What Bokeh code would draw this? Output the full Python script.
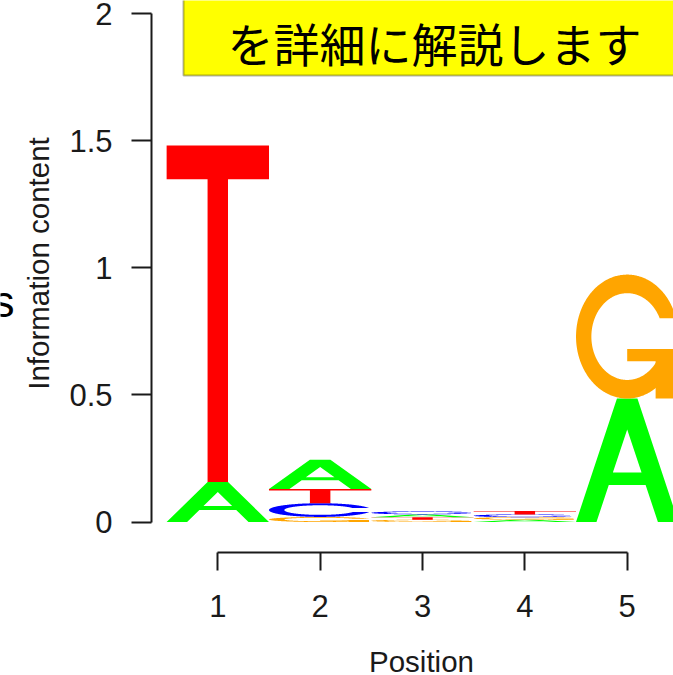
import numpy as np
from bokeh.plotting import figure
from bokeh.models import (ColumnDataSource, Range1d, FixedTicker, Label,
                          BoxAnnotation)
from bokeh.embed import file_html
from bokeh.resources import INLINE

# ---- information content per letter at each motif position ----
positions = [1, 2, 3, 4, 5]
height_A = [0.157, 0.115, 0.011, 0.009, 0.486]
height_C = [0.000, 0.054, 0.012, 0.011, 0.000]
height_G = [0.000, 0.020, 0.009, 0.010, 0.488]
height_T = [1.325, 0.056, 0.010, 0.013, 0.000]

y_ticks = [0, 0.5, 1, 1.5, 2]
y_tick_labels = ["0", "0.5", "1", "1.5", "2"]
x_tick_labels = ["1", "2", "3", "4", "5"]

letter_colors = {"A": "#00FF00", "C": "#0000FF", "G": "#FFA500", "T": "#FF0000"}


# ---- letter outlines in a unit box (seqLogo style polygons) ----
def ring_outline():
    a1 = np.linspace(0.3 + np.pi / 2, np.pi, 100)
    a2 = np.linspace(np.pi, 1.5 * np.pi, 100)
    xl1, yl1 = 0.5 + 0.5 * np.sin(a1), 0.5 + 0.5 * np.cos(a1)
    xl2, yl2 = 0.5 + 0.5 * np.sin(a2), 0.5 + 0.5 * np.cos(a2)
    xl, yl = np.r_[xl1, xl2], np.r_[yl1, yl2]
    x = np.r_[xl, xl[::-1]]
    y = np.r_[yl, 1 - yl[::-1]]
    xi1, yi1 = 0.5 + 0.35 * np.sin(a1), 0.5 + 0.35 * np.cos(a1)
    keep = yi1 <= yl1.max()
    xi1, yi1 = xi1[keep], yi1[keep].copy()
    yi1[0] = yl1.max()
    xi2, yi2 = 0.5 + 0.35 * np.sin(a2), 0.5 + 0.35 * np.cos(a2)
    xi, yi = np.r_[xi1, xi2], np.r_[yi1, yi2]
    x1 = np.r_[xi, xi[::-1]]
    y1 = np.r_[yi, 1 - yi[::-1]]
    return np.r_[x, x1[::-1]], np.r_[y, y1[::-1]], xl1.max()


def letter_parts(ch):
    """Separately filled parts of a letter; each part is a list of rings
    (outer ring first, then holes)."""
    if ch == "A":
        ox = np.array([0, 4, 6, 10, 8, 6.8, 3.2, 2, 0]) / 10
        oy = np.array([0, 10, 10, 0, 0, 3, 3, 0, 0]) / 10
        hx = np.array([3.6, 5, 6.4, 3.6]) / 10
        hy = np.array([4, 7.5, 4, 4]) / 10
        return [[(ox, oy), (hx, hy)]]
    if ch == "T":
        x = np.array([0, 10, 10, 6, 6, 4, 4, 0]) / 10
        y = np.array([10, 10, 9, 9, 0, 0, 9, 9]) / 10
        return [[(x, y)]]
    x, y, r1 = ring_outline()
    if ch == "C":
        return [[(x, y)]]
    h1 = 0.4
    bx = np.array([r1, 0.5, 0.5, r1 - 0.2, r1 - 0.2, r1, r1])
    by = np.array([h1, h1, h1 - 0.1, h1 - 0.1, 0, 0, h1])
    return [[(x, y)], [(bx, by)]]


heights = {"A": height_A, "C": height_C, "G": height_G, "T": height_T}
xs, ys, colors = [], [], []
for i, pos in enumerate(positions):
    column = sorted("ACGT", key=lambda c: heights[c][i])
    base = 0.0
    for ch in column:
        h = heights[ch][i]
        if h <= 0:
            continue
        for part in letter_parts(ch):
            xs.append([[list(pos - 0.5 + rx) for rx, _ in part]])
            ys.append([[list(base + h * ry) for _, ry in part]])
            colors.append(letter_colors[ch])
        base += h

src = ColumnDataSource(dict(xs=xs, ys=ys, color=colors))

W, H = 673, 675
p = figure(width=W, height=H, output_backend="svg", toolbar_location=None,
           x_range=Range1d(-1.1231, 5.4524), y_range=Range1d(-0.6043, 2.0531),
           min_border_left=0, min_border_right=0, min_border_top=0,
           min_border_bottom=0)
p.outline_line_color = None
p.grid.visible = False
p.background_fill_color = "white"
p.border_fill_color = "white"

p.multi_polygons(xs="xs", ys="ys", source=src, fill_color="color",
                 line_color=None)

ink = "#1a1a1a"
font = "Liberation Sans"

yax = p.yaxis[0]
yax.fixed_location = 0.3522
yax.bounds = (0, 2)
yax.ticker = FixedTicker(ticks=y_ticks)
yax.major_label_overrides = {t: s for t, s in zip(y_ticks, y_tick_labels)}
yax.major_tick_out = 20
yax.major_tick_in = 0
yax.minor_tick_out = 0
yax.minor_tick_in = 0
yax.major_label_standoff = 19
yax.major_label_orientation = "horizontal"

xax = p.xaxis[0]
xax.fixed_location = -0.1201
xax.bounds = (1, 5)
xax.ticker = FixedTicker(ticks=positions)
xax.major_label_overrides = {t: s for t, s in zip(positions, x_tick_labels)}
xax.major_tick_out = 18
xax.major_tick_in = 0
xax.minor_tick_out = 0
xax.minor_tick_in = 0
xax.major_label_standoff = 24

for ax in (xax, yax):
    ax.axis_line_color = ink
    ax.axis_line_width = 2
    ax.major_tick_line_color = ink
    ax.major_tick_line_width = 2
    ax.major_label_text_font = font
    ax.major_label_text_font_size = "31px"
    ax.major_label_text_color = ink


# screen positions measured from the top-left corner of the canvas
def sx(px):
    return px


def sy(py):
    return H - py


p.add_layout(Label(x=sx(38), y=sy(263), x_units="screen", y_units="screen",
                   text="Information content", angle=np.pi / 2,
                   text_align="center", text_baseline="middle",
                   text_font=font, text_font_size="29.5px", text_color=ink))
p.add_layout(Label(x=sx(421), y=sy(661), x_units="screen", y_units="screen",
                   text="Position", text_align="center",
                   text_baseline="middle", text_font=font,
                   text_font_size="29.5px", text_color=ink))

# slide callout above the logo
p.add_layout(BoxAnnotation(left=sx(183), right=sx(760), top=sy(-30),
                           bottom=sy(75), left_units="screen",
                           right_units="screen", top_units="screen",
                           bottom_units="screen", fill_color="#FFFF00",
                           fill_alpha=1.0, line_color="black", line_width=2))
p.add_layout(Label(x=sx(434), y=sy(41), x_units="screen", y_units="screen",
                   text="を詳細に解説します", text_align="center",
                   text_baseline="middle", text_font="Noto Sans CJK JP",
                   text_font_size="46px", text_color="black"))
p.add_layout(Label(x=sx(14), y=sy(301), x_units="screen", y_units="screen",
                   text="s", text_align="right", text_baseline="middle",
                   text_font=font, text_font_size="44px", text_color="black"))

open("out.html", "w").write(file_html(p, INLINE))
